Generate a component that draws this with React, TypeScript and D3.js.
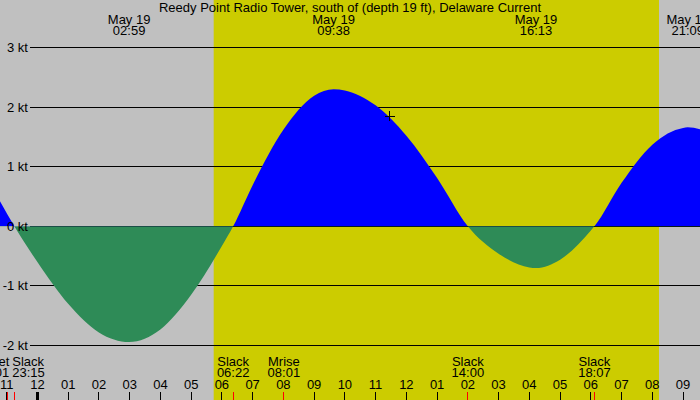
import React, { useEffect } from 'react';
import * as d3 from 'd3';

const title = 'Reedy Point Radio Tower, south of (depth 19 ft), Delaware Current';

// current readings in knots (flood +, ebb -)
const readingTimes = [
  '2025-05-18 22:47', '2025-05-18 23:15', '2025-05-19 00:00', '2025-05-19 01:00',
  '2025-05-19 02:00', '2025-05-19 02:59', '2025-05-19 04:00', '2025-05-19 05:00',
  '2025-05-19 06:00', '2025-05-19 06:22', '2025-05-19 07:00', '2025-05-19 08:00',
  '2025-05-19 09:00', '2025-05-19 09:38', '2025-05-19 10:00', '2025-05-19 11:00',
  '2025-05-19 12:00', '2025-05-19 13:00', '2025-05-19 14:00', '2025-05-19 15:00',
  '2025-05-19 16:00', '2025-05-19 16:13', '2025-05-19 17:00', '2025-05-19 18:00',
  '2025-05-19 18:07', '2025-05-19 19:00', '2025-05-19 20:00', '2025-05-19 21:00',
  '2025-05-19 21:09', '2025-05-19 21:33',
];
const readingKnots = [
  0.42, 0, -0.6, -1.3,
  -1.78, -1.94, -1.73, -1.15,
  -0.33, 0, 0.69, 1.62,
  2.19, 2.3, 2.28, 2.03,
  1.52, 0.81, 0, -0.46,
  -0.69, -0.7, -0.56, -0.07,
  0, 0.73, 1.37, 1.65,
  1.66, 1.63,
];

// max flood / max ebb labels along the top
const peakTimes = ['2025-05-19 02:59', '2025-05-19 09:38', '2025-05-19 16:13', '2025-05-19 21:09'];
const peakDay = 'May 19';

// events marked on the time axis
const eventNames = ['Mset', 'Slack', 'Slack', 'Mrise', 'Slack', 'Slack'];
const eventTimes = [
  '2025-05-18 23:01', '2025-05-18 23:15', '2025-05-19 06:22',
  '2025-05-19 08:01', '2025-05-19 14:00', '2025-05-19 18:07',
];

const sunrise = '2025-05-19 05:44';
const sunset = '2025-05-19 20:13';
const viewStart = '2025-05-18 22:47';
const viewEnd = '2025-05-19 21:33';

const nowTime = '2025-05-19 11:28';
const nowKnots = 1.85;

const knotTicks = [-2, -1, 0, 1, 2, 3];

const parse = d3.timeParse('%Y-%m-%d %H:%M');

const App: React.FC = () => {
  useEffect(() => {
    document.body.style.margin = '0';
  }, []);

  const width = 700;
  const height = 400;

  const x = d3.scaleTime()
    .domain([parse(viewStart)!, parse(viewEnd)!])
    .range([0, width]);

  const y = d3.scaleLinear()
    .domain([-2, 3])
    .range([345.5, 47.5]);

  const points = readingTimes.map((t, i) => ({ t: parse(t)!, v: readingKnots[i] }));

  const area = d3.area<{ t: Date; v: number }>()
    .x(d => x(d.t))
    .y0(y(0))
    .y1(d => y(d.v))
    .curve(d3.curveMonotoneX);

  const hours = d3.timeHour.range(parse(viewStart)!, parse(viewEnd)!);
  const hourFmt = d3.timeFormat('%I');
  const clock = d3.timeFormat('%H:%M');

  // event labels, pushed apart where they would overlap
  const events = eventTimes.map((t, i) => ({
    name: eventNames[i],
    t: parse(t)!,
    cx: x(parse(t)!),
    anchor: 'middle' as 'middle' | 'start' | 'end',
    lx: x(parse(t)!),
  }));
  for (let i = 0; i < events.length - 1; i++) {
    const a = events[i];
    const b = events[i + 1];
    if (b.cx - a.cx < 34) {
      const mid = (a.cx + b.cx) / 2;
      a.anchor = 'end';
      a.lx = mid - 1.5;
      b.anchor = 'start';
      b.lx = mid + 1.5;
    }
  }

  const x0 = x(parse(sunrise)!);
  const x1 = x(parse(sunset)!);

  return (
    <svg
      width={width}
      height={height}
      style={{ display: 'block', position: 'absolute', left: 0, top: 0 }}
      fontFamily='"Liberation Sans", Arial, Helvetica, sans-serif'
      fontSize={13}
    >
      <defs>
        <clipPath id="above">
          <rect x={0} y={0} width={width} height={y(0)} />
        </clipPath>
        <clipPath id="below">
          <rect x={0} y={y(0)} width={width} height={height - y(0)} />
        </clipPath>
      </defs>

      <rect x={0} y={0} width={width} height={height} fill="#c0c0c0" />
      <rect x={x0} y={0} width={x1 - x0} height={height} fill="#cccc00" />

      {knotTicks.map(k => (
        <line key={k} x1={30} x2={width} y1={y(k)} y2={y(k)} stroke="#000" strokeWidth={1} shapeRendering="crispEdges" />
      ))}

      <path d={area(points)!} fill="#0000ff" clipPath="url(#above)" />
      <path d={area(points)!} fill="#2e8b57" clipPath="url(#below)" />

      {knotTicks.map(k => (
        <text key={k} x={28} y={y(k) + 4.5} textAnchor="end">{`${k} kt`}</text>
      ))}

      <text x={width / 2} y={12} textAnchor="middle">{title}</text>
      {peakTimes.map(t => (
        <g key={t}>
          <text x={x(parse(t)!)} y={24} textAnchor="middle">{peakDay}</text>
          <text x={x(parse(t)!)} y={35} textAnchor="middle">{clock(parse(t)!)}</text>
        </g>
      ))}

      <g stroke="#000" strokeWidth={1} shapeRendering="crispEdges">
        <line x1={x(parse(nowTime)!) - 5} x2={x(parse(nowTime)!) + 5} y1={y(nowKnots)} y2={y(nowKnots)} />
        <line x1={x(parse(nowTime)!)} x2={x(parse(nowTime)!)} y1={y(nowKnots) - 5} y2={y(nowKnots) + 5} />
      </g>

      {hours.map(h => (
        <g key={h.getTime()}>
          <line
            x1={x(h)} x2={x(h)} y1={392} y2={height}
            stroke="#000"
            strokeWidth={h.getHours() === 0 ? 3 : 1}
            shapeRendering="crispEdges"
          />
          <text x={x(h)} y={389} textAnchor="middle">{hourFmt(h)}</text>
        </g>
      ))}

      {events.map(e => (
        <g key={e.name + e.cx}>
          <line x1={e.cx} x2={e.cx} y1={392} y2={height} stroke="#ff0000" strokeWidth={1} shapeRendering="crispEdges" />
          <text x={e.lx} y={366} textAnchor={e.anchor}>{e.name}</text>
          <text x={e.lx} y={377} textAnchor={e.anchor}>{clock(e.t)}</text>
        </g>
      ))}
    </svg>
  );
};

export default App;
